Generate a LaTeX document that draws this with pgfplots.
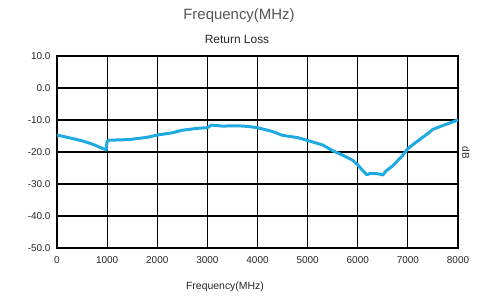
\documentclass[border=0pt]{standalone}
\usepackage{fontspec}
\setmainfont{Liberation Sans}
\usepackage{pgfplots}
\pgfplotsset{compat=1.18}
\definecolor{lc}{RGB}{30,170,225}
\definecolor{tg}{RGB}{85,85,85}
\begin{document}
\begin{tikzpicture}[x=1bp,y=1bp]
\useasboundingbox (0,0) rectangle (487,295);
\begin{axis}[
  at={(57bp,47bp)}, anchor=south west,
  scale only axis, width=401bp, height=192bp,
  xmin=0, xmax=8000, ymin=-50, ymax=10,
  xtick={0,1000,...,8000},
  ytick={-50,-40,...,10},
  yticklabels={-50.0,-40.0,-30.0,-20.0,-10.0,0.0,10.0},
  scaled x ticks=false,
  /pgf/number format/assume math mode=true,
  /pgf/number format/1000 sep={},
  tick label style={font=\fontsize{10}{12}\selectfont, text=black!85},
  xticklabel style={yshift=-5bp},
  yticklabel style={xshift=-3bp},
  grid=major,
  major grid style={black, line width=1.2pt},
  axis line style={black, line width=1.2pt},
  major tick length=0pt,
]
\addplot[lc, line width=3pt, line join=round] coordinates {
(0,-14.7) (200,-15.4) (500,-16.5) (700,-17.5) (960,-19.2) (980,-19.4)
(1000,-16.6) (1050,-16.3) (1300,-16.2) (1500,-16.0) (1800,-15.4)
(2000,-14.7) (2300,-14.0) (2500,-13.2) (2800,-12.6) (3000,-12.4)
(3080,-11.6) (3300,-11.9) (3600,-11.8) (3800,-12.0) (4000,-12.4)
(4300,-13.6) (4500,-14.8) (4800,-15.5) (5000,-16.4) (5300,-17.8)
(5500,-19.6) (5700,-21.0) (5900,-22.6) (6000,-24.0) (6100,-25.8)
(6180,-27.1) (6250,-26.7) (6400,-26.8) (6500,-27.2) (6550,-26.1)
(6700,-24.3) (6900,-21.0) (7000,-18.9) (7200,-16.5) (7400,-14.2)
(7500,-12.9) (7700,-11.7) (8000,-10.0)
};
\end{axis}
\node[text=tg, font=\fontsize{15}{18}\selectfont] at (239,279) {Frequency(MHz)};
\node[text=black!85, font=\fontsize{12}{14}\selectfont] at (237,256) {Return Loss};
\node[text=black!85, font=\fontsize{10.5}{12}\selectfont] at (225,8) {Frequency(MHz)};
\node[text=black!85, font=\fontsize{10}{12}\selectfont, rotate=-90] at (466,142) {dB};
\end{tikzpicture}
\end{document}
